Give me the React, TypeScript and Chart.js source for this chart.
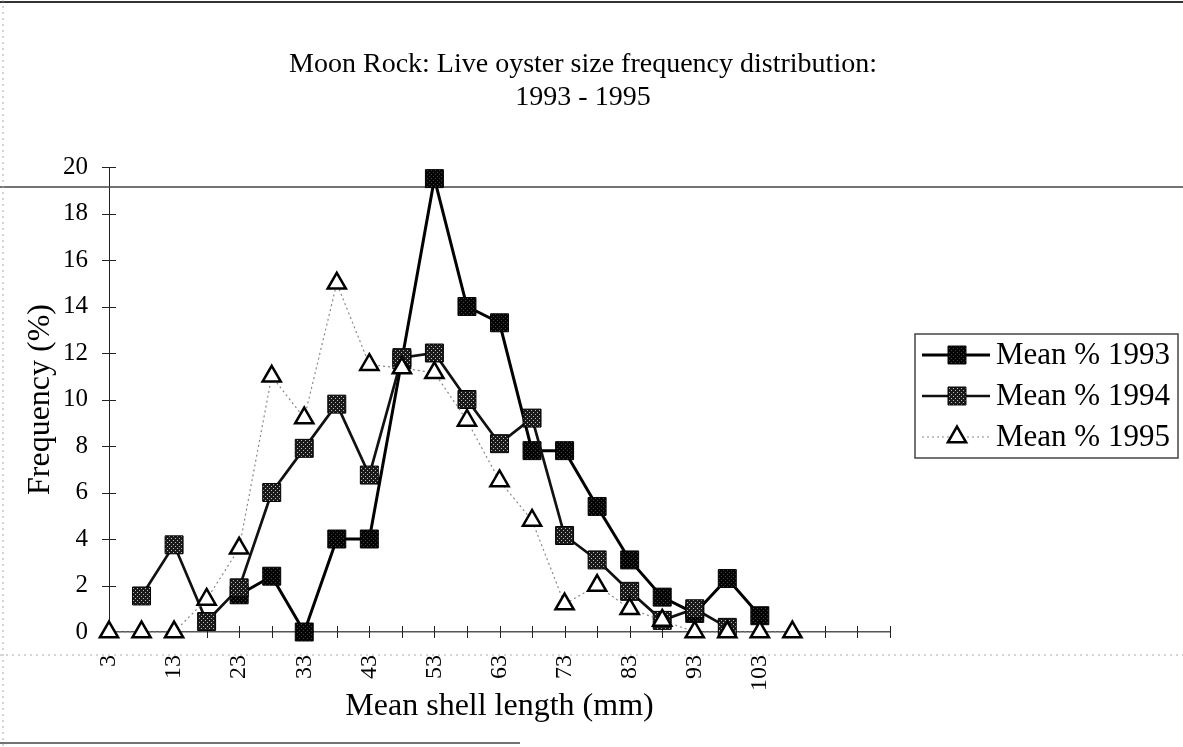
import React, { useEffect, useRef } from "react";
import { Chart, registerables } from "chart.js";

Chart.register(...registerables);

const CATEGORIES = ["3", "8", "13", "18", "23", "28", "33", "38", "43", "48", "53", "58", "63", "68", "73", "78", "83", "88", "93", "98", "103", "108", "113", "118", "123"];
const TICK_LABELS = ["3", "13", "23", "33", "43", "53", "63", "73", "83", "93", "103"];
const MEAN_1993 = [null, null, null, null, 1.6, 2.4, 0, 4.0, 4.0, 11.7, 19.5, 14.0, 13.3, 7.8, 7.8, 5.4, 3.1, 1.5, 0.8, 2.3, 0.7, null, null, null, null];
const MEAN_1994 = [null, 1.55, 3.75, 0.45, 1.9, 6.0, 7.9, 9.8, 6.75, 11.8, 12.0, 10.0, 8.1, 9.2, 4.15, 3.1, 1.75, 0.5, 1.0, 0.2, null, null, null, null, null];
const MEAN_1995 = [0, 0, 0, 1.4, 3.6, 11.0, 9.2, 15.0, 11.5, 11.35, 11.15, 9.1, 6.5, 4.8, 1.2, 2.0, 1.0, 0.5, 0, 0, 0, 0, null, null, null];
const SERIES_LABELS = ["Mean % 1993", "Mean % 1994", "Mean % 1995"];
const TITLE_LINES = ["Moon Rock: Live oyster size frequency distribution:", "1993 - 1995"];
const X_TITLE = "Mean shell length (mm)";
const Y_TITLE = "Frequency (%)";
const Y_MIN = 0;
const Y_MAX = 20;
const Y_STEP = 2;

const SERIF = "'Liberation Serif', 'Times New Roman', serif";

function makePattern(base: string, speck: string): CanvasPattern | string {
  const c = document.createElement("canvas");
  c.width = 4;
  c.height = 4;
  const g = c.getContext("2d");
  if (!g) return base;
  g.fillStyle = base;
  g.fillRect(0, 0, 4, 4);
  g.fillStyle = speck;
  g.fillRect(1, 0, 1, 1);
  g.fillRect(3, 2, 1, 1);
  const p = g.createPattern(c, "repeat");
  return p || base;
}

function drawMarker(ctx: CanvasRenderingContext2D, style: string, x: number, y: number, r: number, fill: any, stroke: string, bw: number) {
  ctx.save();
  ctx.beginPath();
  if (style === "rect") {
    const s = Math.SQRT1_2 * r;
    ctx.rect(x - s, y - s, 2 * s, 2 * s);
  } else {
    const a = Math.PI * 2 / 3;
    let rad = 0;
    ctx.moveTo(x + Math.sin(rad) * r, y - Math.cos(rad) * r);
    rad += a;
    ctx.lineTo(x + Math.sin(rad) * r, y - Math.cos(rad) * r);
    rad += a;
    ctx.lineTo(x + Math.sin(rad) * r, y - Math.cos(rad) * r);
    ctx.closePath();
  }
  ctx.fillStyle = fill;
  ctx.fill();
  ctx.lineWidth = bw;
  ctx.strokeStyle = stroke;
  ctx.stroke();
  ctx.restore();
}

const decorPlugin = {
  id: "decor",
  beforeDatasetsDraw(chart: any) {
    const ctx: CanvasRenderingContext2D = chart.ctx;
    const { width, height } = chart;
    const xs = chart.scales.x;
    const ys = chart.scales.y;
    ctx.save();
    // page frame / scan lines
    ctx.strokeStyle = "#333";
    ctx.lineWidth = 2;
    ctx.beginPath();
    ctx.moveTo(0, 2);
    ctx.lineTo(width, 2);
    ctx.stroke();
    ctx.strokeStyle = "#444";
    ctx.lineWidth = 1.5;
    ctx.beginPath();
    ctx.moveTo(0, 187);
    ctx.lineTo(width, 187);
    ctx.stroke();
    ctx.beginPath();
    ctx.moveTo(0, height - 4);
    ctx.lineTo(520, height - 4);
    ctx.stroke();
    ctx.strokeStyle = "#aaa";
    ctx.lineWidth = 1;
    ctx.setLineDash([2, 4]);
    ctx.beginPath();
    ctx.moveTo(3, 0);
    ctx.lineTo(3, height);
    ctx.stroke();
    ctx.beginPath();
    ctx.moveTo(0, xs.bottom - xs.height + 23);
    ctx.lineTo(width, xs.bottom - xs.height + 23);
    ctx.stroke();
    ctx.setLineDash([]);
    // crossing tick marks
    ctx.strokeStyle = "#222";
    ctx.lineWidth = 1;
    const y0 = ys.getPixelForValue(0);
    for (let i = 0; i < CATEGORIES.length; i++) {
      const px = Math.round(xs.getPixelForTick(i)) + 0.5;
      ctx.beginPath();
      ctx.moveTo(px, y0 - 6);
      ctx.lineTo(px, y0 + 6);
      ctx.stroke();
    }
    const x0 = xs.left;
    ys.ticks.forEach((t: any, i: number) => {
      const py = Math.round(ys.getPixelForTick(i)) + 0.5;
      ctx.beginPath();
      ctx.moveTo(x0 - 7, py);
      ctx.lineTo(x0 + 7, py);
      ctx.stroke();
    });
    ctx.restore();
  },
  afterDraw(chart: any) {
    const ctx: CanvasRenderingContext2D = chart.ctx;
    ctx.save();
    // title
    ctx.fillStyle = "#000";
    ctx.textAlign = "center";
    ctx.textBaseline = "middle";
    ctx.font = `28px ${SERIF}`;
    TITLE_LINES.forEach((line, i) => ctx.fillText(line, 583, 65 + i * 33));
    // legend
    const lx = 915, ly = 334, lw = 263, lh = 124;
    ctx.fillStyle = "#fff";
    ctx.fillRect(lx, ly, lw, lh);
    ctx.strokeStyle = "#444";
    ctx.lineWidth = 1.5;
    ctx.strokeRect(lx, ly, lw, lh);
    chart.data.datasets.forEach((ds: any, i: number) => {
      const ry = ly + 21 + i * 41;
      ctx.save();
      ctx.strokeStyle = ds.borderColor;
      ctx.lineWidth = ds.borderWidth;
      ctx.setLineDash(ds.borderDash || []);
      ctx.beginPath();
      ctx.moveTo(lx + 7, ry);
      ctx.lineTo(lx + 75, ry);
      ctx.stroke();
      ctx.restore();
      drawMarker(ctx, ds.pointStyle, lx + 42, ry, ds.pointRadius, ds.pointBackgroundColor, ds.pointBorderColor, ds.pointBorderWidth);
      ctx.fillStyle = "#000";
      ctx.textAlign = "left";
      ctx.textBaseline = "middle";
      ctx.font = `31px ${SERIF}`;
      ctx.fillText(ds.label, lx + 81, ry + 1);
    });
    ctx.restore();
  },
};

export default function App() {
  const ref = useRef<HTMLCanvasElement | null>(null);
  useEffect(() => {
    if (!ref.current) return;
    const fill1993 = makePattern("#050505", "#444");
    const fill1994 = makePattern("#1a1a1a", "#bbb");
    const chart = new Chart(ref.current, {
      type: "line",
      data: {
        labels: CATEGORIES,
        datasets: [
          {
            label: SERIES_LABELS[0],
            data: MEAN_1993,
            borderColor: "#000",
            borderWidth: 3,
            pointStyle: "rect",
            pointRadius: 12.7,
            pointBackgroundColor: fill1993,
            pointBorderColor: "#000",
            pointBorderWidth: 1,
            order: 2,
            clip: false,
          } as any,
          {
            label: SERIES_LABELS[1],
            data: MEAN_1994,
            borderColor: "#111",
            borderWidth: 2.7,
            pointStyle: "rect",
            pointRadius: 12.7,
            pointBackgroundColor: fill1994,
            pointBorderColor: "#000",
            pointBorderWidth: 1,
            order: 1,
            clip: false,
          } as any,
          {
            label: SERIES_LABELS[2],
            data: MEAN_1995,
            borderColor: "#888",
            borderWidth: 1.2,
            borderDash: [2, 3],
            pointStyle: "triangle",
            pointRadius: 10.5,
            pointBackgroundColor: "#fff",
            pointBorderColor: "#000",
            pointBorderWidth: 2.5,
            order: 0,
            clip: false,
          } as any,
        ],
      },
      options: {
        animation: false,
        responsive: false,
        devicePixelRatio: 1,
        layout: { padding: { top: 167, right: 293, left: 0, bottom: 0 } },
        plugins: {
          legend: { display: false },
          title: { display: false },
          tooltip: { enabled: false },
        },
        scales: {
          x: {
            type: "category",
            offset: false,
            grid: { display: false, drawTicks: false },
            border: { display: true, color: "#555", width: 1.5 },
            ticks: {
              autoSkip: false,
              minRotation: 90,
              maxRotation: 90,
              padding: 23,
              color: "#000",
              font: { family: SERIF, size: 24 },
              callback: (_v: any, i: number) => (TICK_LABELS.includes(CATEGORIES[i]) ? CATEGORIES[i] : ""),
            },
            title: {
              display: true,
              text: X_TITLE,
              color: "#000",
              font: { family: SERIF, size: 32 },
              padding: { top: 0, bottom: 21 },
            },
            afterFit: (s: any) => {
              s.height = 115;
            },
          },
          y: {
            min: Y_MIN,
            max: Y_MAX,
            grid: { display: false, drawTicks: false },
            border: { display: true, color: "#222", width: 1 },
            ticks: {
              stepSize: Y_STEP,
              padding: 21,
              color: "#000",
              font: { family: SERIF, size: 25 },
            },
            title: {
              display: true,
              text: Y_TITLE,
              color: "#000",
              font: { family: SERIF, size: 32 },
              padding: { top: 21, bottom: 0 },
            },
            afterFit: (s: any) => {
              s.width = 109;
            },
          },
        },
      } as any,
      plugins: [decorPlugin],
    });
    return () => chart.destroy();
  }, []);
  return (
    <div style={{ position: "fixed", left: 0, top: 0, width: 1183, height: 747, background: "#fff" }}>
      <canvas ref={ref} width={1183} height={747} />
    </div>
  );
}
